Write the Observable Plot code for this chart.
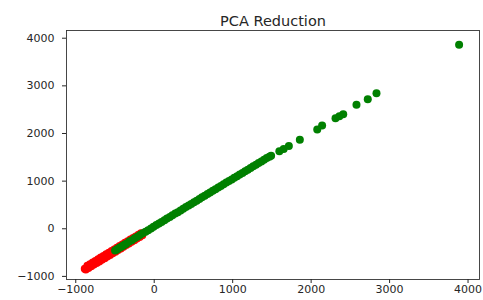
<!DOCTYPE html>
<html>
<head>
<meta charset="utf-8">
<script src="https://cdn.jsdelivr.net/npm/d3@7"></script>
<script src="https://cdn.jsdelivr.net/npm/@observablehq/plot@0.6"></script>
<style>
  html, body { margin: 0; padding: 0; background: #fff; }
</style>
</head>
<body>
<div id="chart"></div>
<script>
const title = "PCA Reduction";
const xTicks = [-1000, 0, 1000, 2000, 3000, 4000];
const yTicks = [-1000, 0, 1000, 2000, 3000, 4000];

// Class 0 (red)
const redX = [-872,-838,-803,-769,-734,-700,-667,-631,-598,-563,-529,-494,-461,-426,-392,-357,-323,-289,-254,-221,-186,-152,
  -885,-852,-818,-783,-749,-715,-681,-646,-612,-578,-543,-509,-475,-440,-406,-372,-337,-303,-269,-235,-200,-168];
const redY = [-857,-822,-789,-752,-720,-686,-650,-617,-581,-549,-513,-480,-445,-412,-376,-343,-307,-275,-240,-205,-172,-137,
  -839,-777,-745,-707,-675,-640,-605,-572,-536,-503,-468,-433,-400,-364,-331,-296,-262,-227,-193,-160,-124,-93];

// Class 1 (green)
const greenX = [-499,-480,-462,-444,-426,-408,-390,-372,-355,
  -318,-285,-249,-214,-181,-146,-110,-77,-41,-8,27,61,94,130,163,199,232,268,301,336,370,404,439,472,507,541,576,609,644,679,712,747,781,816,850,884,919,953,988,1021,1056,1090,1125,1159,1193,1228,1262,1297,1331,1366,1400,1434,1468,1490,
  1595,1650,1716,1856,2078,2140,2311,2360,2409,2578,2722,2833,3886];
const greenY = [-455,-438,-420,-401,-382,-366,-345,-330,-312,
  -268,-240,-199,-166,-131,-95,-62,-30,8,42,77,109,143,180,215,247,282,318,349,386,418,456,489,520,557,590,624,661,692,729,760,797,831,864,900,932,969,1001,1036,1071,1104,1140,1173,1209,1241,1278,1310,1345,1381,1414,1450,1483,1514,1534,
  1625,1675,1735,1867,2083,2167,2321,2362,2404,2602,2719,2845,3861];

const red = redX.map((x, i) => ({x, y: redY[i]}));
const green = greenX.map((x, i) => ({x, y: greenY[i]}));

const fmt = d3.format("d");

const chart = Plot.plot({
  width: 483,
  height: 300,
  marginLeft: 66,
  marginRight: 4,
  marginTop: 30,
  marginBottom: 21,
  style: {fontFamily: "DejaVu Sans", fontSize: "11px", color: "#262626", background: "white"},
  x: {domain: [-1118, 4146]},
  y: {domain: [-1065, 4162]},
  marks: [
    Plot.dot(red, {x: "x", y: "y", r: 4, fill: "#ff0000"}),
    Plot.dot(green, {x: "x", y: "y", r: 4, fill: "#008000"}),
    Plot.frame({stroke: "#333", strokeWidth: 0.9}),
    Plot.axisX({ticks: xTicks, tickSize: 4, tickPadding: 2, tickFormat: fmt, label: null}),
    Plot.axisY({ticks: yTicks, tickSize: 4, tickPadding: 8, tickFormat: fmt, label: null}),
    Plot.text([title], {text: d => d, frameAnchor: "top", lineAnchor: "bottom", dy: -5, fontSize: 14.5, fill: "#262626"})
  ]
});
document.getElementById("chart").appendChild(chart);
</script>
</body>
</html>
